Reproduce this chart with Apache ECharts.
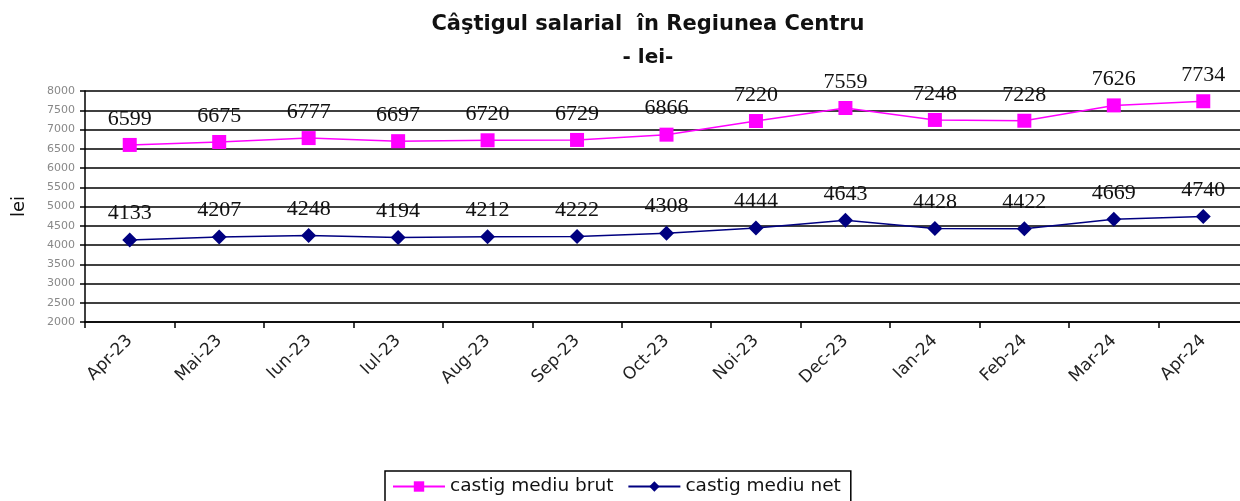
<!DOCTYPE html>
<html><head><meta charset="utf-8">
<script src="https://cdn.jsdelivr.net/npm/echarts@6/dist/echarts.min.js"></script>
<style>html,body{margin:0;padding:0;background:#fff;overflow:hidden}#c{width:1240px;height:501px}</style>
</head><body><div id="c"></div>
<script>
const categories = ["Apr-23","Mai-23","Iun-23","Iul-23","Aug-23","Sep-23","Oct-23","Noi-23","Dec-23","Ian-24","Feb-24","Mar-24","Apr-24"];
const brut = [6599,6675,6777,6697,6720,6729,6866,7220,7559,7248,7228,7626,7734];
const net = [4133,4207,4248,4194,4212,4222,4308,4444,4643,4428,4422,4669,4740];
const titleMain = "Câştigul salarial  în Regiunea Centru";
const titleSub = "- lei-";
const yName = "lei";

const chart = echarts.init(document.getElementById('c'));
chart.setOption({
  animation: false,
  backgroundColor: '#fff',
  title: {
    text: titleMain, subtext: titleSub, left: 643, textAlign: 'center', top: 9, itemGap: 13,
    textStyle: {fontFamily: 'DejaVu Sans', fontSize: 21, fontWeight: 'bold', color: '#111'},
    subtextStyle: {fontFamily: 'DejaVu Sans', fontSize: 20, fontWeight: 'bold', color: '#111'}
  },
  grid: {left: 85, right: -8, top: 91, bottom: 179, outerBoundsMode: 'none', containLabel: false},
  legend: {
    left: 385, top: 471, itemWidth: 52, itemHeight: 13, itemGap: 14,
    borderColor: '#000', borderWidth: 1.5, padding: [6, 10, 10, 7],
    textStyle: {fontFamily: 'DejaVu Sans', fontSize: 18.5, color: '#111'},
    data: ['castig mediu brut', 'castig mediu net']
  },
  xAxis: {
    type: 'category', data: categories, boundaryGap: true,
    axisLine: {lineStyle: {color: '#000', width: 1.5}},
    axisTick: {show: true, length: 6, lineStyle: {color: '#000', width: 1.5}},
    axisLabel: {rotate: 45, fontFamily: 'DejaVu Sans', fontSize: 17, color: '#222', margin: 16}
  },
  yAxis: {
    type: 'value', min: 2000, max: 8000, interval: 500,
    name: yName, nameLocation: 'middle', nameGap: 57, nameRotate: 90,
    nameTextStyle: {fontFamily: 'DejaVu Sans', fontSize: 18, color: '#111'},
    axisLine: {show: true, lineStyle: {color: '#000', width: 1.5}},
    axisTick: {show: true, length: 5, lineStyle: {color: '#000', width: 1.5}},
    axisLabel: {fontFamily: 'DejaVu Sans', fontSize: 11, color: '#888', margin: 10, formatter: v => String(v)},
    splitLine: {lineStyle: {color: '#000', width: 1.5}}
  },
  series: [
    {
      name: 'castig mediu brut', type: 'line', data: brut,
      symbol: 'rect', symbolSize: 14,
      lineStyle: {color: '#ff00ff', width: 1.5},
      itemStyle: {color: '#ff00ff'},
      label: {show: true, position: 'top', distance: 8, fontFamily: 'Liberation Serif', fontSize: 22, color: '#111'}
    },
    {
      name: 'castig mediu net', type: 'line', data: net,
      symbol: 'diamond', symbolSize: 15,
      lineStyle: {color: '#000080', width: 1.5},
      itemStyle: {color: '#000080'},
      label: {show: true, position: 'top', distance: 8, fontFamily: 'Liberation Serif', fontSize: 22, color: '#111'}
    }
  ]
});
</script></body></html>
